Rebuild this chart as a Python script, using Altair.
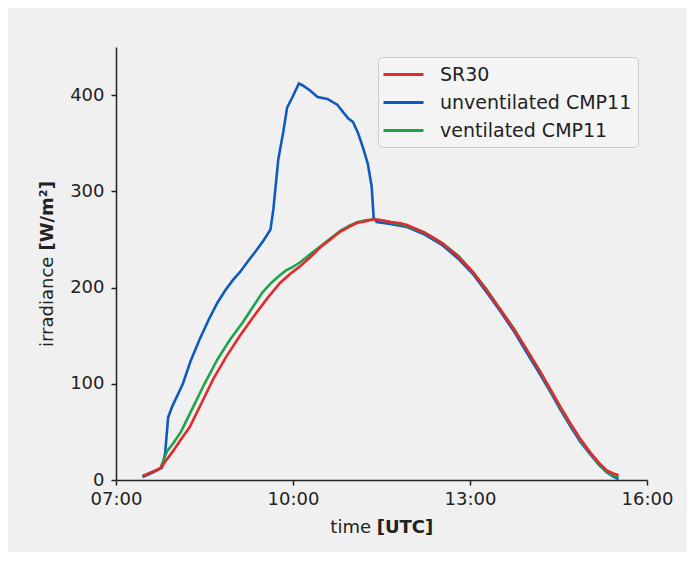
import altair as alt
import pandas as pd

# ---- data ----
sr30_t = ["07:27", "07:45", "07:50", "07:58", "08:06", "08:15", "08:27", "08:39", "08:52", "09:06",
          "09:20", "09:34", "09:47", "09:57", "10:07", "10:18", "10:28", "10:38", "10:48", "10:57",
          "11:05", "11:14", "11:22", "11:30", "11:39", "11:48", "11:56", "12:14", "12:32", "12:48",
          "13:03", "13:17", "13:31", "13:45", "13:58", "14:10", "14:22", "14:32", "14:42", "14:52",
          "15:02", "15:11", "15:19", "15:25", "15:31"]
sr30_v = [4, 12, 19, 30, 42, 55, 80, 105, 128, 150,
          170, 189, 205, 214, 222, 232, 242, 250, 258, 263,
          267, 269, 271, 270, 268, 267, 265, 257, 246, 232,
          216, 197, 177, 156, 135, 115, 94, 76, 59, 43,
          29, 18, 10, 7, 5]

vent_t = ["07:27", "07:45", "07:52", "07:58", "08:06", "08:18", "08:30", "08:43", "08:56", "09:09",
          "09:20", "09:29", "09:38", "09:47", "09:53", "09:59", "10:07", "10:18", "10:28", "10:38",
          "10:48", "10:57", "11:05", "11:14", "11:22", "11:30", "11:39", "11:48", "11:56", "12:14",
          "12:32", "12:48", "13:03", "13:17", "13:31", "13:45", "13:58", "14:10", "14:22", "14:32",
          "14:42", "14:52", "15:02", "15:11", "15:19", "15:25", "15:31"]
vent_v = [4, 12, 30, 38, 50, 75, 100, 125, 146, 164,
          181, 195, 205, 213, 218, 221, 226, 235, 243, 251,
          259, 264, 268, 270, 271, 270, 268, 266, 264, 257,
          246, 233, 216, 198, 177, 157, 135, 115, 93, 75,
          58, 42, 28, 17, 9, 5, 3]

unvent_t = ["07:27", "07:38", "07:47", "07:50", "07:53", "07:57", "08:08", "08:16", "08:25", "08:34",
            "08:43", "08:51", "08:59", "09:06", "09:14", "09:23", "09:30", "09:37", "09:40", "09:45",
            "09:50", "09:54", "09:59", "10:06", "10:10", "10:17", "10:25", "10:35", "10:45", "10:56",
            "11:01", "11:06", "11:11", "11:16", "11:20", "11:22", "11:25", "11:39", "11:56", "12:14",
            "12:32", "12:48", "13:03", "13:17", "13:31", "13:45", "13:58", "14:10", "14:22", "14:32",
            "14:42", "14:52", "15:02", "15:11", "15:19", "15:25", "15:31"]
unvent_v = [3, 8, 13, 28, 65, 76, 100, 124, 146, 166,
            184, 197, 208, 216, 227, 239, 249, 260, 281, 333,
            361, 387, 397, 412, 410, 405, 398, 396, 390, 376,
            372, 361, 346, 329, 305, 273, 268, 266, 263, 255,
            244, 230, 214, 195, 175, 154, 132, 112, 91, 73,
            56, 40, 27, 16, 8, 4, 1]

series = ["SR30", "unventilated CMP11", "ventilated CMP11"]
colors = ["#e3292c", "#0d5bbd", "#1fa34b"]

rows = []
for name, ts, vs in [(series[1], unvent_t, unvent_v), (series[2], vent_t, vent_v), (series[0], sr30_t, sr30_v)]:
    for t, v in zip(ts, vs):
        rows.append({"time": "2024-01-01T" + t + ":00", "irr": v, "sensor": name})
df = pd.DataFrame(rows)

FONT = "DejaVu Sans"
INK = "#222222"

xscale = alt.Scale(domain=[alt.DateTime(year=2024, month=1, date=1, hours=7),
                           alt.DateTime(year=2024, month=1, date=1, hours=16)])
xaxis = alt.Axis(values=[alt.DateTime(year=2024, month=1, date=1, hours=h) for h in [7, 10, 13, 16]],
                 format="%H:%M", title=None, labelPadding=5, labelFlush=False)
yaxis = alt.Axis(values=[0, 100, 200, 300, 400], title=None, labelPadding=7)

legend = alt.Legend(orient="none", legendX=262, legendY=10, title=None,
                    symbolType="M-2,0L2,0", symbolSize=400, symbolStrokeWidth=3,
                    labelFontSize=19, labelFont=FONT, labelColor=INK, labelLimit=0,
                    padding=6, fillColor="#f4f4f4", strokeColor="#cccccc", cornerRadius=4,
                    rowPadding=6, labelOffset=25, symbolOffset=8)

color = alt.Color("sensor:N", scale=alt.Scale(domain=series, range=colors), legend=legend)

base = alt.Chart(df).mark_line(strokeWidth=2.6).encode(
    x=alt.X("time:T", scale=xscale, axis=xaxis),
    y=alt.Y("irr:Q", scale=alt.Scale(domain=[0, 450]), axis=yaxis),
    color=color,
)

layers = [base.transform_filter(alt.datum.sensor == s) for s in [series[1], series[2], series[0]]]

def label(txt, x, y, bold=False, angle=0, align="left"):
    return alt.Chart(pd.DataFrame({"t": [txt]})).mark_text(
        font=FONT, fontSize=18, fontWeight="bold" if bold else "normal", color=INK,
        align=align, baseline="alphabetic", angle=angle
    ).encode(text="t:N", x=alt.value(x), y=alt.value(y))

titles = [
    label("time", 255, 486, align="right"),
    label("[UTC]", 260.7, 486, bold=True),
    label("irradiance", -63, 300, angle=270),
    label("[W/m²]", -63, 203.6, bold=True, angle=270),
]

chart = alt.layer(*layers, *titles).properties(
    width=531, height=433,
    padding={"left": 108, "top": 39, "right": 40, "bottom": 72},
    autosize=alt.AutoSizeParams(type="none"),
    background="#f0f0f0",
).configure_view(stroke=None).configure_axis(
    domainColor=INK, tickColor=INK, labelColor=INK, labelFont=FONT, labelFontSize=18,
    tickSize=5, domainWidth=1.5, tickWidth=1.5, grid=False,
)

chart.save("out.html", embed_options={"renderer": "svg", "actions": False})
